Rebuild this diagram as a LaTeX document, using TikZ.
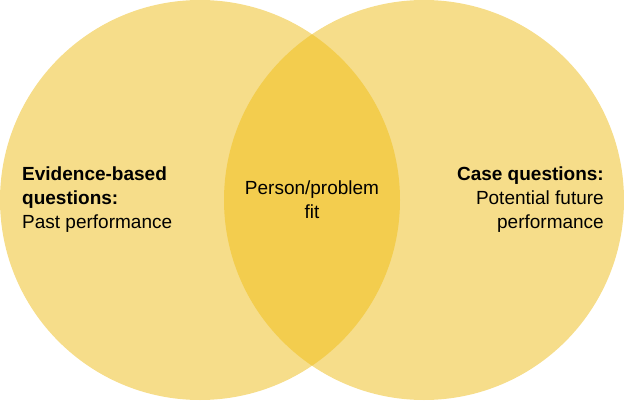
\documentclass[tikz,border=0pt]{standalone}
\usepackage{fontspec}
\setmainfont{Liberation Sans}
\definecolor{lightgold}{HTML}{F6DD8A}
\definecolor{darkgold}{HTML}{F3CD4E}
\begin{document}
\begin{tikzpicture}[x=1pt,y=1pt]
  \tikzstyle{circ}=[fill=lightgold,draw=none]
  \tikzstyle{label}=[font=\fontsize{19}{24}\selectfont,inner sep=0pt]
  \useasboundingbox (0,0) rectangle (624,400);
  \fill[circ] (200,200) circle (200);
  \fill[circ] (424,200) circle (200);
  \begin{scope}
    \clip (200,200) circle (200);
    \fill[darkgold] (424,200) circle (200);
  \end{scope}
  \node[label,align=left,anchor=west] (L) at (22,200) {\textbf{Evidence-based}\\\textbf{questions:}\\Past performance};
  \node[label,align=center] (M) at (312,200) {Person/problem\\fit};
  \node[label,align=right,anchor=east] (R) at (604,200) {\textbf{Case questions:}\\Potential future\\performance};
\end{tikzpicture}
\end{document}
